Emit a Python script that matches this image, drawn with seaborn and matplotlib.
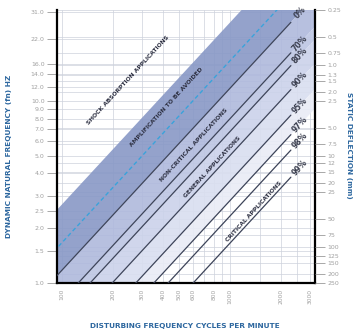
import numpy as np
import pandas as pd
import matplotlib
matplotlib.use("Agg")
import matplotlib.pyplot as plt
from matplotlib.ticker import NullFormatter
import seaborn as sns

# axis ticks
cpm_ticks = [100, 200, 300, 400, 500, 600, 800, 1000, 2000, 3000]
cpm_grid = [700, 900, 1500, 2500]
hz_ticks = [1.0, 1.5, 2.0, 2.5, 3.0, 4.0, 5.0, 6.0, 7.0, 8.0, 9.0, 10.0,
            12.0, 14.0, 16.0, 22.0, 31.0]
defl_ticks = [0.25, 0.5, 0.75, 1.0, 1.3, 1.5, 2.0, 2.5, 5.0, 7.5, 10, 12, 15,
              20, 25, 50, 75, 100, 125, 150, 200, 250]
defl_labels = ["0.25", "0.5", "0.75", "1.0", "1.3", "1.5", "2.0", "2.5", "5.0",
               "7.5", "10", "12", "15", "20", "25", "50", "75", "100", "125",
               "150", "200", "250"]

# isolation efficiency lines (disturbing CPM per natural Hz)
iso_labels = ["0%", "70%", "80%", "90%", "95%", "97%", "98%", "99%"]
iso_ratio = [85, 125, 147, 199, 275, 352, 428, 603]
line_cpm = [90, 2300]
label_cpm = 2600

resonance_ratio = 60

# shaded bands between ratios
band_edges = [37, 85, 125, 147, 199, 275, 352]
band_colors = ["#8898c6", "#afb9dc", "#bdc6e3", "#cbd2ea", "#d9def0", "#e9ecf6"]

# zone captions
zone_names = ["SHOCK ABSORPTION APPLICATIONS", "AMPLIFICATION TO BE AVOIDED",
              "NON-CRITICAL APPLICATIONS", "GENERAL APPLICATIONS",
              "CRITICAL APPLICATIONS"]
zone_ratio = [19, 45, 106, 180, 560]
zone_cpm = [247, 416, 610, 782, 1390]

sns.set_style("white")
plt.rcParams['font.family'] = ['DejaVu Sans']

fig = plt.figure(figsize=(3.55, 3.36), dpi=100)
ax = fig.add_axes([57 / 355, 1 - 283 / 336, 258 / 355, 273 / 336])
ax.set_xscale("log")
ax.set_yscale("log")

# bands
xx = np.array([50, 6000])
for lo, hi, c in zip(band_edges[:-1], band_edges[1:], band_colors):
    ax.fill_between(xx, xx / hi, xx / lo, color=c, alpha=0.9, lw=0, zorder=1)

# isolation lines
rows = []
for lab, r in zip(iso_labels, iso_ratio):
    for c in line_cpm:
        rows.append({"cpm": c, "hz": c / r, "line": lab})
df = pd.DataFrame(rows)
sns.lineplot(data=df, x="cpm", y="hz", units="line", estimator=None,
             color="#3d4459", lw=0.9, ax=ax, zorder=3)

# resonance line
res = pd.DataFrame({"cpm": xx, "hz": xx / resonance_ratio})
sns.lineplot(data=res, x="cpm", y="hz", color="#3aa3db", lw=1.0,
             linestyle=(0, (3, 2)), ax=ax, zorder=3)

ax.set_xlim(93.4, 3200)
ax.set_ylim(1.0, 31.0)

# angle of a slope-1 line on screen
p1 = ax.transData.transform((1000, 10))
p2 = ax.transData.transform((2000, 20))
ang = np.degrees(np.arctan2(p2[1] - p1[1], p2[0] - p1[0]))

for lab, r in zip(iso_labels, iso_ratio):
    ax.text(label_cpm, label_cpm / r, lab, rotation=ang, ha="center",
            va="center", fontsize=5.5, fontweight="bold", color="#3a3e4e",
            rotation_mode="anchor", zorder=4)

for name, r, c in zip(zone_names, zone_ratio, zone_cpm):
    ax.text(c, c / r, name, rotation=ang, ha="center", va="center",
            fontsize=4.3, fontweight="bold", color="#2f3244",
            rotation_mode="anchor", zorder=4)

# static deflection scale on the right
defl_pos = np.sqrt(250 / np.array(defl_ticks))
sec = ax.twinx()
sec.set_yscale("log")
sec.set_ylim(ax.get_ylim())
sec.set_yticks(defl_pos, labels=defl_labels)
sec.minorticks_off()
sec.tick_params(axis="y", length=7, width=0.6, color="#9a9a9a", pad=2,
                labelsize=4.5, labelcolor="#a0a0a0")
for s in sec.spines.values():
    s.set_visible(False)
sec.grid(False)

# ticks and grid
ax.set_xticks(cpm_ticks, labels=[str(v) for v in cpm_ticks])
ax.set_xticks(cpm_grid, minor=True)
ax.set_yticks(hz_ticks, labels=["%.1f" % v for v in hz_ticks])
ax.set_yticks(defl_pos, minor=True)
ax.xaxis.set_minor_formatter(NullFormatter())
ax.yaxis.set_minor_formatter(NullFormatter())
ax.tick_params(axis="x", which="major", length=0, pad=4, labelsize=4.3,
               labelcolor="#a0a0a0", labelrotation=90)
ax.tick_params(axis="y", which="major", length=7, width=0.6, color="#9a9a9a",
               pad=2, labelsize=4.5, labelcolor="#a0a0a0")
ax.tick_params(which="minor", length=0)
ax.grid(True, which="both", color="#cdd2dc", lw=0.5)
ax.set_axisbelow(True)

for s in ["left", "bottom", "right"]:
    ax.spines[s].set_linewidth(1.6)
    ax.spines[s].set_color("black")
ax.spines["top"].set_visible(False)

title_color = "#2d679f"
ax.set_xlabel("DISTURBING FREQUENCY CYCLES PER MINUTE", fontsize=5.3,
              fontweight="bold", color=title_color)
ax.xaxis.set_label_coords(0.496, -0.147)
ax.set_ylabel("DYNAMIC NATURAL FREQUENCY (fn) HZ", fontsize=5.3,
              fontweight="bold", color=title_color)
ax.yaxis.set_label_coords(-0.174, 0.462)
sec.set_ylabel("STATIC DEFLECTION (mm)", fontsize=5.3, fontweight="bold",
               color=title_color, rotation=270, va="center")
sec.yaxis.set_label_coords(1.132, 0.505)

fig.savefig("out.png", dpi=100)
